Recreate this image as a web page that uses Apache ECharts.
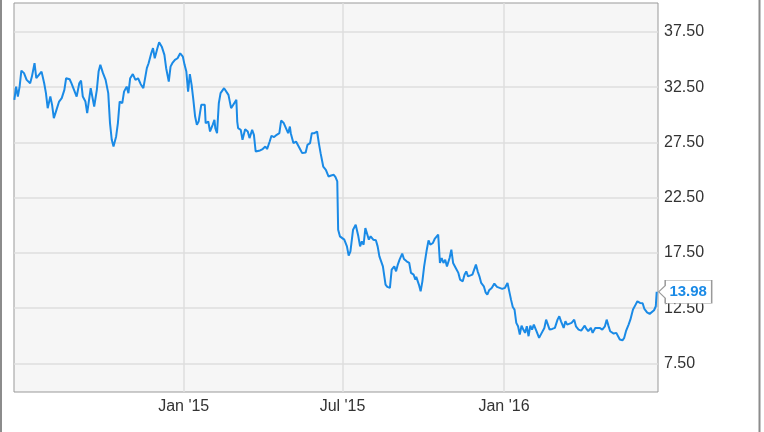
<!DOCTYPE html>
<html>
<head>
<meta charset="utf-8">
<script src="https://cdn.jsdelivr.net/npm/echarts@6/dist/echarts.min.js"></script>
<style>
html,body{margin:0;padding:0;background:#fff;}
#chart{width:764px;height:432px;}
</style>
</head>
<body>
<div id="chart"></div>
<script>
// ---- data ----
const dates = [
'2014-06-22','2014-06-24','2014-06-26','2014-06-28','2014-06-30',
'2014-07-03','2014-07-06','2014-07-10','2014-07-12','2014-07-15','2014-07-17','2014-07-19','2014-07-23','2014-07-26','2014-07-28','2014-07-30',
'2014-08-02','2014-08-04','2014-08-06','2014-08-09','2014-08-12','2014-08-15','2014-08-18','2014-08-20','2014-08-24','2014-08-26','2014-08-29',
'2014-09-01','2014-09-04','2014-09-06','2014-09-08','2014-09-11','2014-09-13','2014-09-17','2014-09-21','2014-09-24','2014-09-26','2014-09-28',
'2014-10-01','2014-10-04','2014-10-07','2014-10-09','2014-10-11','2014-10-13','2014-10-16','2014-10-18','2014-10-20','2014-10-23','2014-10-25','2014-10-28','2014-10-30',
'2014-11-01','2014-11-04','2014-11-07','2014-11-10','2014-11-13','2014-11-16','2014-11-20','2014-11-22','2014-11-25','2014-11-27','2014-11-29',
'2014-12-02','2014-12-04','2014-12-07','2014-12-10','2014-12-12','2014-12-15','2014-12-17','2014-12-19','2014-12-22','2014-12-25','2014-12-28','2014-12-31',
'2015-01-02','2015-01-04','2015-01-06','2015-01-08','2015-01-10','2015-01-12','2015-01-14','2015-01-16','2015-01-18','2015-01-21','2015-01-23','2015-01-25','2015-01-26','2015-01-29','2015-01-31',
'2015-02-03','2015-02-05','2015-02-06','2015-02-08','2015-02-10','2015-02-12','2015-02-16','2015-02-21','2015-02-24','2015-02-26',
'2015-03-02','2015-03-03','2015-03-04','2015-03-07','2015-03-09','2015-03-12','2015-03-15','2015-03-17','2015-03-20','2015-03-22','2015-03-24','2015-03-29',
'2015-04-01','2015-04-04','2015-04-06','2015-04-09','2015-04-11','2015-04-14','2015-04-17','2015-04-20','2015-04-22','2015-04-25','2015-04-27','2015-04-30',
'2015-05-02','2015-05-03','2015-05-06','2015-05-09','2015-05-11','2015-05-14','2015-05-16','2015-05-18','2015-05-20','2015-05-22','2015-05-25','2015-05-27','2015-05-30',
'2015-06-02','2015-06-04','2015-06-06','2015-06-09','2015-06-12','2015-06-15','2015-06-18','2015-06-21','2015-06-23','2015-06-25','2015-06-26','2015-06-28','2015-06-30',
'2015-07-03','2015-07-06','2015-07-08','2015-07-10','2015-07-12','2015-07-13','2015-07-16','2015-07-19','2015-07-21','2015-07-23','2015-07-25','2015-07-27','2015-07-29','2015-07-31',
'2015-08-02','2015-08-05','2015-08-08','2015-08-10','2015-08-12','2015-08-14','2015-08-16','2015-08-19','2015-08-21','2015-08-24','2015-08-26','2015-08-29','2015-08-31',
'2015-09-02','2015-09-04','2015-09-07','2015-09-09','2015-09-12','2015-09-15','2015-09-17','2015-09-20','2015-09-22','2015-09-23','2015-09-26','2015-09-28','2015-09-30',
'2015-10-02','2015-10-05','2015-10-07','2015-10-09','2015-10-12','2015-10-14','2015-10-16','2015-10-18','2015-10-20','2015-10-22','2015-10-24','2015-10-26','2015-10-28','2015-10-31',
'2015-11-02','2015-11-04','2015-11-07','2015-11-10','2015-11-12','2015-11-15','2015-11-17','2015-11-19','2015-11-21','2015-11-23','2015-11-26','2015-11-28','2015-11-30',
'2015-12-02','2015-12-04','2015-12-06','2015-12-09','2015-12-11','2015-12-13','2015-12-15','2015-12-18','2015-12-21','2015-12-24','2015-12-27','2015-12-30',
'2016-01-02','2016-01-05','2016-01-07','2016-01-09','2016-01-11','2016-01-13','2016-01-15','2016-01-17','2016-01-19','2016-01-21','2016-01-23','2016-01-25','2016-01-27','2016-01-29','2016-01-31',
'2016-02-02','2016-02-04','2016-02-07','2016-02-10','2016-02-13','2016-02-16','2016-02-18','2016-02-22','2016-02-25','2016-02-28',
'2016-03-02','2016-03-04','2016-03-06','2016-03-09','2016-03-11','2016-03-13','2016-03-15','2016-03-18','2016-03-21','2016-03-23','2016-03-26','2016-03-29','2016-03-31',
'2016-04-02','2016-04-04','2016-04-06','2016-04-09','2016-04-11','2016-04-14','2016-04-16','2016-04-19','2016-04-22','2016-04-25','2016-04-27','2016-04-29',
'2016-05-01','2016-05-03','2016-05-05','2016-05-08','2016-05-10','2016-05-12','2016-05-15','2016-05-17','2016-05-19','2016-05-22','2016-05-24','2016-05-27','2016-05-30',
'2016-06-01','2016-06-04','2016-06-07','2016-06-09','2016-06-12','2016-06-15','2016-06-17','2016-06-20','2016-06-22','2016-06-23'
];

const prices = [
31.35,32.55,31.65,32.55,34.0,
33.77,33.16,32.86,33.46,34.67,33.31,33.35,33.91,32.86,31.96,30.6,
31.65,30.9,29.7,30.45,31.2,31.51,32.26,33.31,33.22,32.86,32.26,
31.65,32.86,33.1,31.65,31.2,30.15,32.41,30.75,32.26,33.91,34.52,
33.77,33.16,31.96,29.25,27.74,27.13,28.04,29.25,31.2,31.05,32.1,32.55,31.96,
33.31,33.68,33.16,33.31,32.77,32.41,34.22,34.67,35.57,36.03,35.12,
36.03,36.57,36.17,35.42,34.22,33.01,34.36,34.67,34.97,35.12,35.57,35.27,
34.52,33.91,32.1,33.68,32.71,31.35,29.84,29.09,29.39,30.9,31.05,30.9,29.25,29.39,28.49,
29.09,29.54,28.79,28.34,31.05,31.96,32.41,31.8,30.6,30.75,
31.35,29.39,28.79,28.64,27.74,28.7,28.49,27.89,28.64,28.19,26.68,26.77,
26.9,27.13,26.9,27.58,28.1,27.98,28.19,28.34,29.48,29.25,29.09,28.34,
28.94,28.34,27.44,27.58,27.74,26.83,26.53,26.68,26.59,27.28,27.44,28.34,28.34,
28.49,27.44,26.53,25.32,25.02,24.42,24.51,24.57,24.36,23.97,19.6,19.0,18.85,
18.7,18.09,17.25,17.64,17.79,19.6,20.05,19.0,18.09,18.54,18.24,19.75,19.84,18.7,
19.0,18.7,18.65,18.09,17.19,17.04,16.28,14.63,14.42,14.33,15.98,16.28,15.83,
16.44,16.89,17.43,16.95,16.74,16.59,15.69,15.53,15.08,15.33,14.63,14.02,14.93,
16.28,17.79,18.63,18.24,18.4,18.76,18.7,19.15,16.59,17.04,16.59,16.89,16.28,17.04,
17.79,16.59,16.14,15.69,15.08,14.93,15.53,15.83,15.38,15.4,15.53,15.62,16.44,
15.83,15.38,14.78,14.48,13.93,13.72,14.11,14.33,14.72,14.42,14.33,14.24,
14.33,14.78,14.02,13.27,12.61,12.37,11.17,10.86,10.11,10.92,10.56,10.26,10.86,9.96,10.92,
10.56,11.01,10.41,9.81,10.26,10.71,11.46,10.56,10.62,10.71,
11.46,11.76,11.31,10.71,11.31,11.01,10.86,11.17,11.46,10.86,10.56,10.47,10.62,
10.92,10.62,10.41,10.71,10.26,10.71,10.62,10.71,10.56,10.86,11.46,10.92,
10.41,10.26,10.2,10.26,9.96,9.66,9.59,9.81,10.41,11.01,11.46,12.37,12.82,
13.12,12.97,12.95,12.43,12.12,11.98,12.07,12.31,12.67,13.98
];

const xTickDates = ['2015-01-01', '2015-07-01', '2016-01-01'];
const xTickLabels = ["Jan '15", "Jul '15", "Jan '16"];
const yTicks = [7.5, 12.5, 17.5, 22.5, 27.5, 32.5, 37.5];

// ---- build chart ----
function toTime(s) { const p = s.split('-').map(Number); return Date.UTC(p[0], p[1] - 1, p[2]); }
const xTickTimes = xTickDates.map(toTime);
const seriesData = dates.map((d, i) => [toTime(d), prices[i]]);
const lastIdx = prices.length - 1;
const DAY = 86400000;

const chart = echarts.init(document.getElementById('chart'), null, { renderer: 'canvas' });
chart.setOption({
  animation: false,
  backgroundColor: '#ffffff',
  textStyle: { fontFamily: 'Arial, "Liberation Sans", sans-serif' },
  grid: {
    left: 14, right: 106, top: 3, bottom: 40,
    show: true, backgroundColor: '#f6f6f6', borderColor: '#999', borderWidth: 1
  },
  xAxis: {
    type: 'value',
    min: toTime('2014-06-21') + 0.6 * DAY,
    max: toTime('2016-06-24') + 0.5 * DAY,
    axisLine: { show: false },
    axisTick: { show: false, customValues: xTickTimes },
    axisLabel: {
      customValues: xTickTimes,
      formatter: function (v) {
        let best = 0, bd = Infinity;
        xTickTimes.forEach((t, i) => { const d = Math.abs(t - v); if (d < bd) { bd = d; best = i; } });
        return xTickLabels[best];
      },
      margin: 7, fontSize: 16, color: '#333'
    },
    splitLine: { show: true, lineStyle: { color: '#dedede', width: 1.5 } }
  },
  yAxis: {
    type: 'value',
    position: 'right',
    min: 4.91, max: 40.12,
    axisLine: { show: false },
    axisTick: { show: false, customValues: yTicks },
    axisLabel: {
      customValues: yTicks,
      formatter: v => Number(v).toFixed(2),
      margin: 6, fontSize: 16, color: '#333'
    },
    splitLine: { show: true, lineStyle: { color: '#dedede', width: 1.5 } }
  },
  series: [{
    type: 'line',
    data: seriesData,
    showSymbol: false,
    symbol: 'none',
    lineStyle: { color: '#1a8ae6', width: 2 },
    markPoint: {
      symbol: 'path://M0,12 L6.5,5.5 L6.5,0 L53,0 L53,24 L6.5,24 L6.5,18.5 Z',
      symbolSize: [53, 23],
      symbolKeepAspect: false,
      symbolOffset: [28.5, 0],
      itemStyle: { color: '#ffffff', borderColor: '#9a9a9a', borderWidth: 1 },
      label: {
        show: true, position: 'inside', offset: [3, 0],
        formatter: p => Number(p.value).toFixed(2),
        color: '#1a8ae6', fontWeight: 'bold', fontSize: 15
      },
      data: [{ coord: seriesData[lastIdx], value: prices[lastIdx] }]
    }
  }],
  graphic: [
    { type: 'line', shape: { x1: 1, y1: 0, x2: 1, y2: 432 }, style: { stroke: '#8c8c8c', lineWidth: 2 }, silent: true },
    { type: 'line', shape: { x1: 759.5, y1: 0, x2: 759.5, y2: 432 }, style: { stroke: '#8c8c8c', lineWidth: 2 }, silent: true }
  ]
});
</script>
</body>
</html>
